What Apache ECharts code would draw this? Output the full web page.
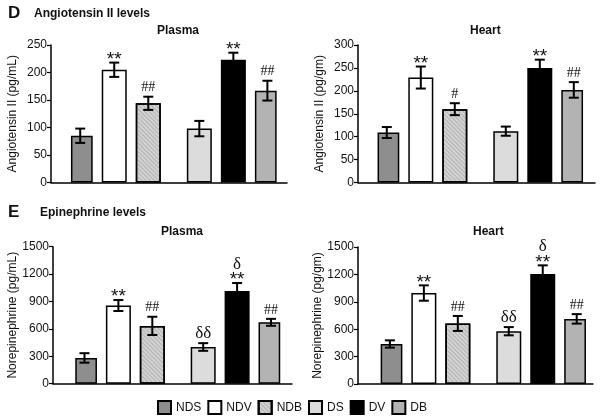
<!DOCTYPE html>
<html>
<head>
<meta charset="utf-8">
<script src="https://cdn.jsdelivr.net/npm/echarts@6/dist/echarts.min.js"></script>
<style>html,body{margin:0;padding:0;background:#fff}#c{width:600px;height:417px}</style>
</head>
<body>
<div id="c"></div>
<script>
// ---- data ----
const categories = ['NDS', 'NDV', 'NDB', 'DS', 'DV', 'DB'];
const angPlasma    = [85, 205, 144, 98, 223, 167];
const angPlasmaErr = [13, 13, 12, 14, 13, 18];
const angPlasmaSig = ['', '**', '##', '', '**', '##'];
const angHeart     = [109, 229, 160, 112, 250, 202];
const angHeartErr  = [12, 24, 13, 10, 18, 17];
const angHeartSig  = ['', '**', '#', '', '**', '##'];
const nePlasma     = [282, 856, 633, 402, 1016, 672];
const nePlasmaErr  = [52, 60, 100, 42, 86, 38];
const nePlasmaSig  = ['', '**', '##', 'δδ', 'δ\n**', '##'];
const neHeart      = [438, 996, 663, 578, 1204, 713];
const neHeartErr   = [40, 84, 82, 45, 95, 52];
const neHeartSig   = ['', '**', '##', 'δδ', 'δ\n**', '##'];
const angTicks = { plasma: [0, 250, 50], heart: [0, 300, 50] };
const neTicks  = [0, 1500, 300];

// ---- styles ----
const colors = { NDS: '#8e8e8e', NDV: '#ffffff', NDB: '#d3d3d3', DS: '#dcdcdc', DV: '#000000', DB: '#b3b3b3' };
const hatch = { symbol: 'rect', symbolSize: 1, dashArrayX: [1, 0], dashArrayY: [1, 2], rotation: Math.PI / 4, color: 'rgba(150,150,150,0.55)' };

// slots: a spacer between bars, an extra spacer between the two groups
const slots = [];
const slotOf = {};
categories.forEach((c, i) => {
  if (i > 0) slots.push('_' + slots.length);
  if (i === 3) slots.push('_' + slots.length);
  slotOf[c] = slots.length;
  slots.push(c);
});

const panels = [
  { frame: { left: 51, top: 45, width: 236, height: 137.5 }, bars: { left: 71.7, width: 204.2 },
    yr: angTicks.plasma, name: 'Angiotensin II (pg/mL)', vals: angPlasma, err: angPlasmaErr, sig: angPlasmaSig },
  { frame: { left: 358, top: 45, width: 237, height: 137.5 }, bars: { left: 378.3, width: 204 },
    yr: angTicks.heart, name: 'Angiotensin II (pg/gm)', vals: angHeart, err: angHeartErr, sig: angHeartSig },
  { frame: { left: 53, top: 246.7, width: 239, height: 137 }, bars: { left: 76, width: 203.5 },
    yr: neTicks, name: 'Norepinephrine (pg/mL)', vals: nePlasma, err: nePlasmaErr, sig: nePlasmaSig },
  { frame: { left: 358, top: 247, width: 235, height: 137 }, bars: { left: 381.4, width: 203.8 },
    yr: neTicks, name: 'Norepinephrine (pg/gm)', vals: neHeart, err: neHeartErr, sig: neHeartSig }
];

const grid = [], xAxis = [], yAxis = [], series = [];
const sigStyle = {
  '**': { font: '19px "Liberation Sans", Arial, sans-serif', dy: -3 },
  '##': { font: '14px "Liberation Serif", "Times New Roman", serif', dy: -9 },
  '#':  { font: '14px "Liberation Serif", "Times New Roman", serif', dy: -9 },
  'δδ': { font: '17px "Liberation Serif", "Times New Roman", serif', dy: -10 },
  'δ':  { font: '17px "Liberation Serif", "Times New Roman", serif', dy: -10 }
};

panels.forEach((p, k) => {
  const f = p.frame;
  // frame grid (axes)
  grid.push({ left: f.left, top: f.top, width: f.width, height: f.height });
  xAxis.push({ gridIndex: 2 * k, type: 'value', min: 0, max: 1,
    axisLine: { show: true, lineStyle: { color: '#000', width: 1.5 } },
    axisTick: { show: false }, axisLabel: { show: false }, splitLine: { show: false } });
  yAxis.push({ gridIndex: 2 * k, type: 'value', min: p.yr[0], max: p.yr[1], interval: p.yr[2],
    name: p.name, nameLocation: 'middle', nameGap: 32,
    nameTextStyle: { fontSize: 12, color: '#111', fontFamily: '"Liberation Sans", Arial, sans-serif' },
    axisLine: { show: true, lineStyle: { color: '#000', width: 1.5 } },
    axisTick: { show: true, length: 4, lineStyle: { color: '#000', width: 1.2 } },
    axisLabel: { fontSize: 12, color: '#111', margin: 4, formatter: v => String(v),
      fontFamily: '"Liberation Sans", Arial, sans-serif' },
    splitLine: { show: false } });
  // bar grid
  grid.push({ left: p.bars.left, top: f.top, width: p.bars.width, height: f.height });
  xAxis.push({ gridIndex: 2 * k + 1, type: 'category', data: slots, show: false, boundaryGap: true });
  yAxis.push({ gridIndex: 2 * k + 1, type: 'value', min: p.yr[0], max: p.yr[1], show: false });

  categories.forEach((c, i) => {
    const data = slots.map(() => null);
    data[slotOf[c]] = p.vals[i];
    series.push({
      name: c, type: 'bar', xAxisIndex: 2 * k + 1, yAxisIndex: 2 * k + 1,
      data, barWidth: 25, barGap: '-100%', animation: false,
      itemStyle: Object.assign({ color: colors[c], borderColor: '#000', borderWidth: 1.5 },
        c === 'NDB' ? { decal: hatch } : {})
    });
  });

  series.push({
    type: 'custom', xAxisIndex: 2 * k + 1, yAxisIndex: 2 * k + 1, z: 5, animation: false,
    data: categories.map((c, i) => [slotOf[c], p.vals[i], p.err[i]]),
    renderItem: (params, api) => {
      const x = api.value(0), v = api.value(1), e = api.value(2);
      const t = api.coord([x, v + e]);
      const b = api.coord([x, v - e]);
      const cw = 5;
      const ls = { stroke: '#000', lineWidth: 2 };
      const children = [
        { type: 'line', shape: { x1: t[0], y1: t[1], x2: b[0], y2: b[1] }, style: ls },
        { type: 'line', shape: { x1: t[0] - cw, y1: t[1], x2: t[0] + cw, y2: t[1] }, style: ls },
        { type: 'line', shape: { x1: b[0] - cw, y1: b[1], x2: b[0] + cw, y2: b[1] }, style: ls }
      ];
      const sig = p.sig[params.dataIndex];
      if (sig) {
        const lines = sig.split('\n').reverse();
        let y = t[1];
        lines.forEach((ln, j) => {
          const st = sigStyle[ln];
          const yy = j === 0 ? y + st.dy : y - 16;
          children.push({ type: 'text', style: { text: ln, x: t[0], y: yy, font: st.font,
            fill: '#111', align: 'center', verticalAlign: 'middle' } });
          y = yy;
        });
      }
      return { type: 'group', children };
    }
  });
});

const tfont = '"Liberation Sans", Arial, sans-serif';
const option = {
  backgroundColor: '#fff',
  animation: false,
  title: [
    { text: 'D', left: 3, top: 0, textStyle: { fontSize: 17, fontWeight: 'bold', color: '#111', fontFamily: tfont } },
    { text: 'Angiotensin II levels', left: 29, top: 3, textStyle: { fontSize: 12, fontWeight: 'bold', color: '#111', fontFamily: tfont } },
    { text: 'Plasma', left: 152, top: 20, textStyle: { fontSize: 12, fontWeight: 'bold', color: '#111', fontFamily: tfont } },
    { text: 'Heart', left: 465, top: 20, textStyle: { fontSize: 12, fontWeight: 'bold', color: '#111', fontFamily: tfont } },
    { text: 'E', left: 3, top: 199, textStyle: { fontSize: 17, fontWeight: 'bold', color: '#111', fontFamily: tfont } },
    { text: 'Epinephrine levels', left: 35, top: 202, textStyle: { fontSize: 12, fontWeight: 'bold', color: '#111', fontFamily: tfont } },
    { text: 'Plasma', left: 156, top: 221, textStyle: { fontSize: 12, fontWeight: 'bold', color: '#111', fontFamily: tfont } },
    { text: 'Heart', left: 468, top: 221, textStyle: { fontSize: 12, fontWeight: 'bold', color: '#111', fontFamily: tfont } }
  ],
  legend: {
    data: categories, left: 152, top: 395, itemWidth: 13, itemHeight: 13, itemGap: 6,
    icon: 'rect', selectedMode: false,
    textStyle: { fontSize: 12, color: '#111', fontFamily: tfont }
  },
  grid, xAxis, yAxis, series
};

const chart = echarts.init(document.getElementById('c'), null, { renderer: 'canvas' });
chart.setOption(option);
</script>
</body>
</html>
